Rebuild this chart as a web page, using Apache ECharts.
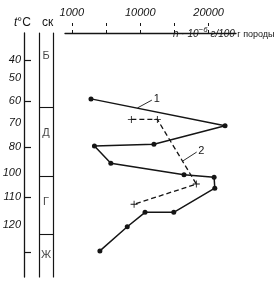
<!DOCTYPE html>
<html><head><meta charset="utf-8">
<script src="https://cdn.jsdelivr.net/npm/echarts@6/dist/echarts.min.js"></script>
<style>html,body{margin:0;padding:0;background:#fff}#c{width:280px;height:282px}</style>
</head><body><div id="c"></div>
<script>
// ---- data ----
const xTickValues = [0, 5000, 10000, 15000, 20000];
const xLabelValues = [0, 10000, 20000];
const xLabelTexts = ['1000', '10000', '20000'];

const tempLabelTexts = ['40', '50', '60', '70', '80', '100', '110', '120'];
const tempLabelDepth = [11.1, 18.4, 27.9, 36.9, 46.7, 57.4, 67.2, 78.7];
const tempTickDepth = [11.1, 27.9, 46.7, 67.2, 89.8];

const layerNames = ['Б', 'Д', 'Г', 'Ж'];
const layerNameDepth = [9.4, 41, 69.3, 91];
const layerBounds = [30.6, 58.9, 82.4];

const s1X = [2800, 22400, 12000, 3300, 5700, 16400, 20800, 20900, 14900, 10700, 8100, 4100];
const s1Depth = [27.0, 38.0, 45.6, 46.3, 53.4, 58.1, 59.1, 63.6, 73.5, 73.5, 79.4, 89.3];

const s2X = [8700, 12500, 18200, 9100];
const s2Depth = [35.4, 35.4, 61.9, 70.2];

const curveNames = ['1', '2'];
const leader1 = [[9600, 30.7], [11700, 27.5]];
const leader2 = [[16200, 52.5], [18250, 48.8]];

// ---- chart ----
const FONT = 'Liberation Sans';
const ink = '#151515';
const chart = echarts.init(document.getElementById('c'), null, {renderer: 'canvas'});
const pairs = (xs, ys) => xs.map((v, i) => [v, ys[i]]);
const plus = 'path://M4.4,0H5.6V4.4H10V5.6H5.6V10H4.4V5.6H0V4.4H4.4Z';

const option = {
  animation: false,
  backgroundColor: '#fff',
  textStyle: {fontFamily: FONT},
  grid: [
    {left: 65, right: 44, top: 23, bottom: 5},
    {left: 23, right: 256, top: 33, bottom: 5},
    {left: 39, right: 227, top: 33, bottom: 5}
  ],
  xAxis: [
    {gridIndex: 0, type: 'value', position: 'top', min: -1000, max: 24000,
     splitLine: {show: false},
     axisLine: {show: true, lineStyle: {color: ink, width: 1.3}},
     axisTick: {show: true, length: 3, customValues: xTickValues, lineStyle: {color: ink, width: 1}},
     axisLabel: {show: true, margin: 5, customValues: xLabelValues, color: ink,
       fontSize: 11, fontStyle: 'italic', fontFamily: FONT,
       formatter: v => xLabelTexts[xLabelValues.indexOf(v)] || ''}},
    {gridIndex: 0, type: 'value', position: 'top', min: -1000, max: 24000,
     splitLine: {show: false}, axisLine: {show: false},
     axisTick: {show: true, inside: true, length: 3, customValues: xTickValues, lineStyle: {color: ink, width: 1}},
     axisLabel: {show: false}},
    {gridIndex: 1, type: 'value', min: 0, max: 1, show: false},
    {gridIndex: 2, type: 'value', min: 0, max: 1, show: false}
  ],
  yAxis: [
    {gridIndex: 0, type: 'value', inverse: true, min: -4.1, max: 100, show: false},
    {gridIndex: 1, type: 'value', inverse: true, min: 0, max: 100, position: 'left',
     splitLine: {show: false},
     axisLine: {show: true, lineStyle: {color: ink, width: 1.3}},
     axisTick: {show: true, inside: true, length: 7, customValues: tempTickDepth, lineStyle: {color: ink, width: 1.2}},
     axisLabel: {show: true, margin: 3, customValues: tempLabelDepth, color: ink,
       fontSize: 11, fontStyle: 'italic', fontFamily: FONT,
       formatter: v => tempLabelTexts[tempLabelDepth.indexOf(v)] || ''}},
    {gridIndex: 2, type: 'value', inverse: true, min: 0, max: 100, position: 'left',
     splitLine: {show: false}, axisTick: {show: false}, axisLabel: {show: false},
     axisLine: {show: true, lineStyle: {color: ink, width: 1.2}}},
    {gridIndex: 2, type: 'value', inverse: true, min: 0, max: 100, position: 'right',
     splitLine: {show: false}, axisTick: {show: false}, axisLabel: {show: false},
     axisLine: {show: true, lineStyle: {color: ink, width: 1.2}}}
  ],
  series: [
    {type: 'line', xAxisIndex: 0, yAxisIndex: 0, data: pairs(s1X, s1Depth),
     symbol: 'circle', symbolSize: 5, showAllSymbol: true,
     lineStyle: {color: ink, width: 1.5}, itemStyle: {color: ink},
     markLine: {silent: true, symbol: 'none', animation: false,
       lineStyle: {color: ink, width: 0.9, type: 'solid'},
       label: {show: true, position: 'end', distance: 2, formatter: curveNames[0], color: ink, fontSize: 11, fontFamily: FONT},
       data: [[{coord: leader1[0]}, {coord: leader1[1]}]]}},
    {type: 'line', xAxisIndex: 0, yAxisIndex: 0, data: pairs(s2X, s2Depth),
     symbol: plus, symbolSize: 7, showAllSymbol: true,
     lineStyle: {color: ink, width: 1.3, type: [5, 3]}, itemStyle: {color: ink},
     markLine: {silent: true, symbol: 'none', animation: false,
       lineStyle: {color: ink, width: 0.9, type: 'solid'},
       label: {show: true, position: 'end', distance: 2, formatter: curveNames[1], color: ink, fontSize: 11, fontFamily: FONT},
       data: [[{coord: leader2[0]}, {coord: leader2[1]}]]}},
    {type: 'scatter', xAxisIndex: 3, yAxisIndex: 2,
     data: layerNameDepth.map((d, i) => ({value: [0.5, d], name: layerNames[i]})),
     symbolSize: 1, itemStyle: {color: 'rgba(0,0,0,0)'},
     label: {show: true, position: 'inside', formatter: p => p.name, color: ink, fontSize: 11, fontFamily: FONT},
     markLine: {silent: true, symbol: 'none', animation: false,
       lineStyle: {color: ink, width: 1.1, type: 'solid'}, label: {show: false},
       data: layerBounds.map(b => ({yAxis: b}))}}
  ],
  graphic: [
    {type: 'text', left: 14, top: 17, style: {
      text: '{i|t}{n|°C}', rich: {
        i: {fontSize: 12, fontStyle: 'italic', fontFamily: FONT, fill: ink},
        n: {fontSize: 12, fontFamily: FONT, fill: ink}}}},
    {type: 'text', left: 42, top: 17, style: {
      text: 'ск', font: '12px "Liberation Sans"', fill: ink}},
    {type: 'text', left: 173, top: 25.5, style: {
      text: '{i|n · 10}{s|−6}{i| г/100}{n| г породы}', rich: {
        i: {fontSize: 10, fontStyle: 'italic', fontFamily: FONT, fill: ink, lineHeight: 14, verticalAlign: 'bottom'},
        s: {fontSize: 8, fontStyle: 'italic', fontFamily: FONT, fill: ink, lineHeight: 14, verticalAlign: 'top'},
        n: {fontSize: 9, fontFamily: FONT, fill: ink, lineHeight: 14, verticalAlign: 'bottom'}}}}
  ]
};
chart.setOption(option);
</script>
</body></html>
